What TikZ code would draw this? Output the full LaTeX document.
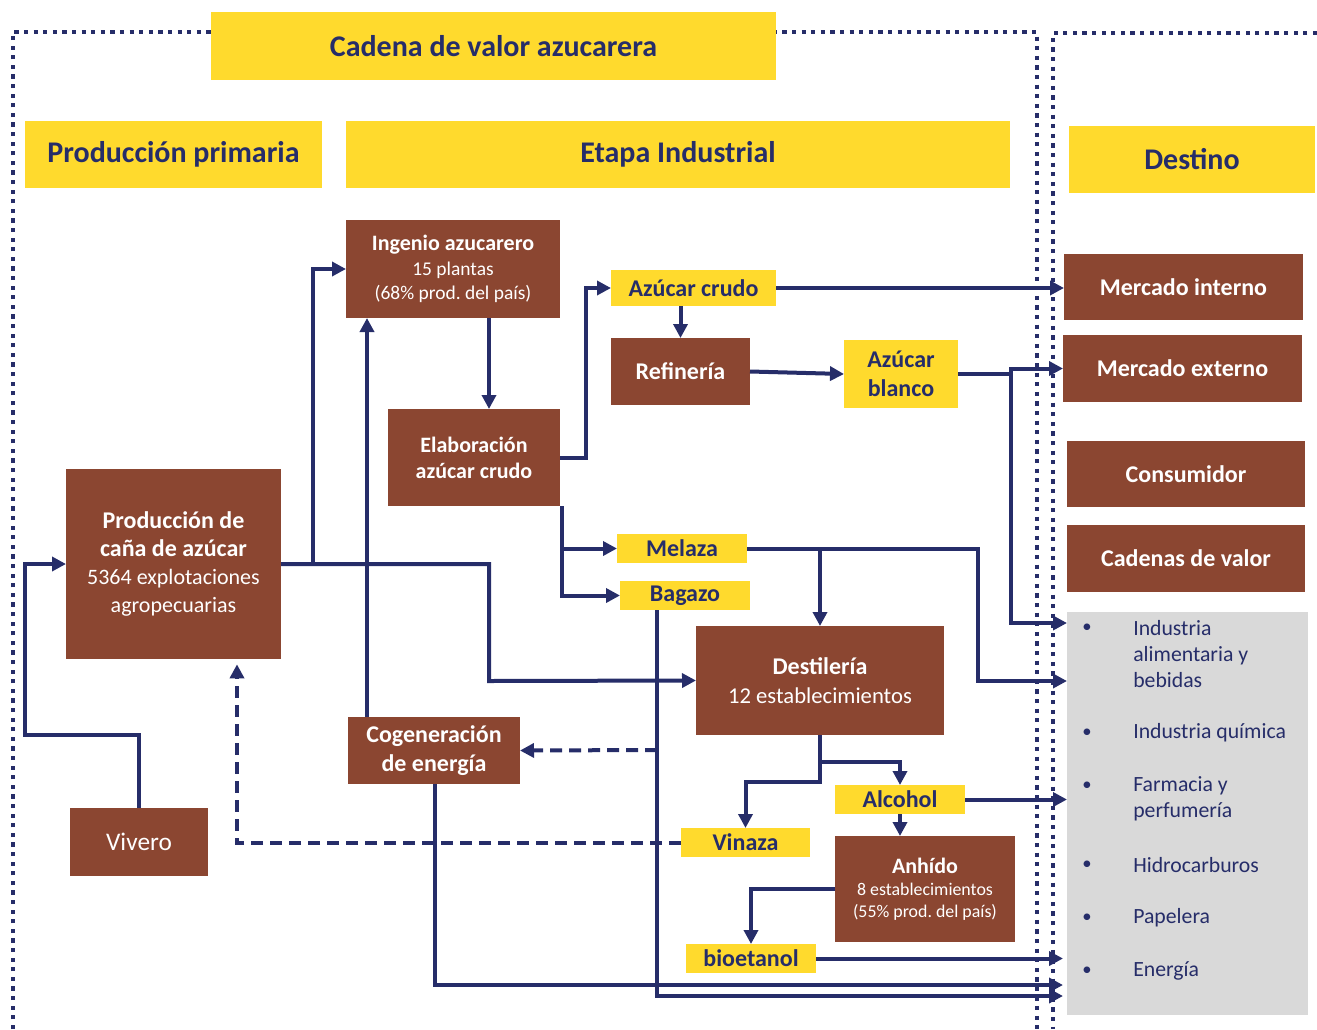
\documentclass[tikz,border=0pt]{standalone}
\usepackage{fontspec}
\setmainfont{Carlito}
\usetikzlibrary{arrows.meta}
\frenchspacing

\definecolor{navy}{RGB}{38,45,105}
\definecolor{sunny}{RGB}{255,218,45}
\definecolor{brick}{RGB}{139,70,49}
\definecolor{panelgray}{RGB}{217,217,217}

\tikzset{
  span/.style args={#1/#2/#3/#4}{minimum width={(#3-#1)*0.75pt}, minimum height={(#4-#2)*0.75pt},
    at={({(#1+#3)/2},{(#2+#4)/2})}},
  header/.style={fill=sunny, inner sep=0pt, outer sep=0pt, text=navy, font=\bfseries\fontsize{22.5}{27}\selectfont},
  tag/.style={fill=sunny, inner sep=0pt, outer sep=0pt, text=navy, align=center, font=\bfseries\fontsize{18}{21.75}\selectfont},
  stage/.style={fill=brick, inner sep=0pt, outer sep=0pt, text=white, align=center, font=\fontsize{18}{21.75}\selectfont},
  panel/.style={fill=panelgray, inner sep=0pt, outer sep=0pt},
  useitem/.style={anchor=west, inner sep=0pt, text=navy, align=left, font=\fontsize{16.3}{19.5}\selectfont},
  flow/.style={navy, line width=3pt, -{Triangle[length=10.5pt,width=10.5pt]}},
  dflow/.style={flow, dash pattern=on 9pt off 5.25pt},
  frame/.style={navy, line width=3.2pt, dash pattern=on 3.2pt off 4pt},
}

\begin{document}
\begin{tikzpicture}[x=0.75pt,y=0.75pt,yscale=-1,xscale=1]
\useasboundingbox (0,0) rectangle (1317,1029);

%Dotted frames
\draw[frame] (13,1029) -- (13,32) -- (1037,32) -- (1037,1029);
\draw[frame] (1317,33) -- (1053,33) -- (1053,1029);

%Headers
\node[header, span=211/12/776/80] (title) {Cadena de valor azucarera};
\node[header, span=25/121/322/188] (primary) {Producción primaria};
\node[header, span=346/121/1010/188] (industrial) {Etapa Industrial};
\node[header, span=1069/126/1315/193] (destino) {Destino};

%Stages
\node[stage, font=\fontsize{14.6}{18.4}\selectfont, span=346/220/560/318] (ingenio)
  {{\bfseries\fontsize{16.5}{18.4}\selectfont Ingenio azucarero}\\15 plantas\\(68\% prod. del país)};
\node[stage, font=\bfseries\fontsize{16.5}{19.5}\selectfont, span=388/409/560/506] (elab)
  {Elaboración\\azúcar crudo};
\node[stage, font=\fontsize{16.5}{21}\selectfont, span=66/469/281/659] (cana)
  {{\bfseries\fontsize{18}{21.75}\selectfont Producción de}\\{\bfseries\fontsize{18}{21}\selectfont caña de azúcar}\\5364 explotaciones\\agropecuarias};
\node[stage, span=611/338/750/405] (refin) {\textbf{Refinería}};
\node[stage, font=\fontsize{17}{21.75}\selectfont, span=696/626/944/735] (destil)
  {{\bfseries\fontsize{18}{21.75}\selectfont Destilería}\\12 establecimientos};
\node[stage, font=\bfseries\fontsize{18}{21.75}\selectfont, span=348/717/520/784] (cogen)
  {Cogeneración\\de energía};
\node[stage, font=\fontsize{19}{22}\selectfont, span=70/808/208/876] (vivero) {Vivero};
\node[stage, font=\fontsize{13.4}{16.5}\selectfont, span=835/836/1015/942] (anhido)
  {{\bfseries\fontsize{16.5}{16.5}\selectfont Anhído}\\8 establecimientos\\(55\% prod. del país)};

%Destinations
\node[stage, span=1064/254/1303/320] (minterno) {\textbf{Mercado interno}};
\node[stage, span=1063/335/1302/402] (mexterno) {\textbf{Mercado externo}};
\node[stage, span=1067/441/1305/507] (consumo) {\textbf{Consumidor}};
\node[stage, span=1067/525/1305/592] (cadenas) {\textbf{Cadenas de valor}};
\node[panel, span=1067/612/1308/1015] (usos) {};

%Products
\node[tag, span=611/270/776/306] (crudo) {Azúcar crudo};
\node[tag, span=844/340/958/408] (blanco) {Azúcar\\blanco};
\node[tag, span=617/534/747/563] (melaza) {Melaza};
\node[tag, span=620/581/750/610] (bagazo) {Bagazo};
\node[tag, span=835/785/965/814] (alcohol) {Alcohol};
\node[tag, span=681/828/810/857] (vinaza) {Vinaza};
\node[tag, span=686/944/816/973] (bioet) {bioetanol};

%Uses list
\foreach \y [count=\i] in {628,733,786,865,918,971}
  \node[text=navy, font=\fontsize{14}{14}\selectfont] (dot\i) at (1087,\y) {\textbullet};
\node[useitem] (alim) at (1133,654) {Industria\\alimentaria y\\bebidas};
\node[useitem] (quim) at (1133,733) {Industria química};
\node[useitem] (farma) at (1133,799) {Farmacia y\\perfumería};
\node[useitem] (hidro) at (1133,865) {Hidrocarburos};
\node[useitem] (papel) at (1133,918) {Papelera};
\node[useitem] (energ) at (1133,971) {Energía};

%Connectors
\coordinate (split1) at (313,564);
\coordinate (split2) at (1011,374);
\draw[flow] (vivero.north) |- (25,735) |- (cana.west);
\draw[flow] (cana.east) -| (489,681) -- (destil.west);
\draw[flow] (split1) |- (ingenio.west);
\draw[flow] (cogen.north -| 367,0) -- (ingenio.south -| 367,0);
\draw[flow] (ingenio.south -| 489,0) -- (elab.north -| 489,0);
\draw[flow] (elab.east) -- ++(26,0) |- (crudo.west);
\draw[flow] ([xshift=1.5pt]elab.south east) |- (melaza.west);
\draw[flow] ([xshift=1.5pt]elab.south east) |- (bagazo.west);
\draw[flow] (crudo.south -| refin.north) -- (refin.north);
\draw[flow] (crudo.east) -- (crudo.east -| minterno.west);
\draw[flow] (refin.east) -- (blanco.west);
\draw[flow] (blanco.east) -- (split2) |- (mexterno.west);
\draw[flow] (split2) |- (usos.west |- 0,623);
\draw[flow] (melaza.east) -| (978,681) -- (usos.west |- 0,681);
\draw[flow] (melaza.east -| destil.north) -- (destil.north);
\draw[flow] (bagazo.south -| 657,0) |- (1063,996);
\draw[dflow] (657,750) -- (cogen.east);
\draw[flow] (cogen.south -| 435,0) |- (1063,985);
\draw[dflow, shorten >=4pt] (vinaza.west) -| (cana.south -| 237,0);
\draw[flow] (destil.south) -- ++(0,27) -| (alcohol.north);
\draw[flow] (destil.south) -- ++(0,47) -| (vinaza.north);
\draw[flow] (alcohol.south) -- (alcohol.south |- anhido.north);
\draw[flow] (alcohol.east) -- (alcohol.east -| usos.west);
\draw[flow] (anhido.west) -| (bioet.north);
\draw[flow] (bioet.east) -- (bioet.east -| 1063,0);

\end{tikzpicture}
\end{document}
